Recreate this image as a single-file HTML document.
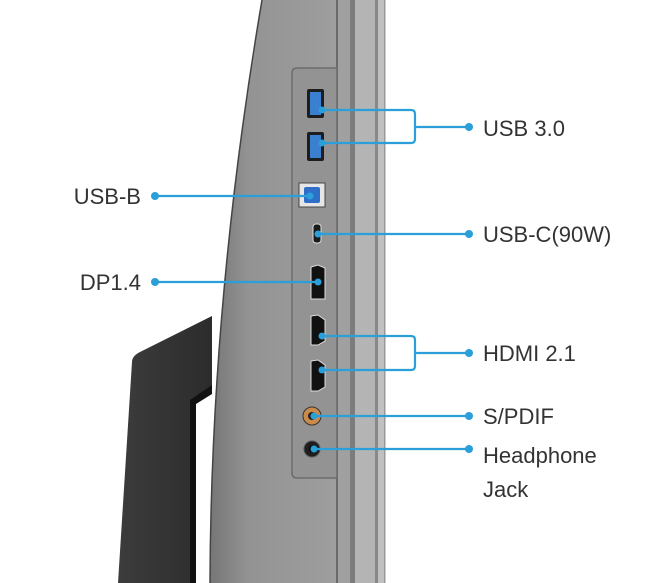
<!DOCTYPE html>
<html><head><style>
html,body{margin:0;padding:0;background:#fff;}
svg{display:block;}
text{font-family:"Liberation Sans",sans-serif;font-size:22px;fill:#333;}
</style></head><body>
<svg width="650" height="583" viewBox="0 0 650 583" xmlns="http://www.w3.org/2000/svg">
<defs>
<linearGradient id="body" x1="0" x2="1" y1="0" y2="0">
<stop offset="0" stop-color="#767676"/><stop offset="0.3" stop-color="#939393"/><stop offset="1" stop-color="#9e9e9e"/>
</linearGradient>
<linearGradient id="stand" x1="0" x2="1" y1="0" y2="0">
<stop offset="0" stop-color="#3c3c3c"/><stop offset="1" stop-color="#2c2c2c"/>
</linearGradient>
</defs>
<path d="M132,362 Q132,356 140,352 L212,316 L212,583 L118,583 Z" fill="url(#stand)"/>
<path d="M190,400 L212,385 L212,583 L190,583 Z" fill="#111"/>
<path d="M196,404 L212,394 L212,583 L196,583 Z" fill="#fff"/>
<path d="M262,0 L337,0 L337,583 L210,583 Q211,300 262,0 Z" fill="url(#body)"/>
<path d="M262,0 Q211,300 210,583" fill="none" stroke="#444" stroke-width="1.5"/>
<rect x="337" y="0" width="13" height="583" fill="#a0a0a0"/>
<rect x="336" y="0" width="2" height="583" fill="#6a6a6a"/>
<rect x="350" y="0" width="5" height="583" fill="#7c7c7c"/>
<rect x="355" y="0" width="20" height="583" fill="#b4b4b4"/>
<rect x="375" y="0" width="3" height="583" fill="#888"/>
<rect x="378" y="0" width="7" height="583" fill="#c0c0c0"/>
<rect x="384" y="0" width="1.5" height="583" fill="#999"/>
<path d="M292,73 Q292,68 297,68 L337,68 L337,478 L297,478 Q292,478 292,473 Z" fill="#939393" stroke="#6c6c6c" stroke-width="1.5"/>
<rect x="307" y="89" width="17" height="29" rx="2" fill="#1d1d1d"/><rect x="310" y="92" width="11" height="23" fill="#3a7fd0"/>
<rect x="307" y="132" width="17" height="29" rx="2" fill="#1d1d1d"/><rect x="310" y="135" width="11" height="23" fill="#3a7fd0"/>
<rect x="299" y="183" width="26" height="24" fill="#e6e6e6" stroke="#444"/><rect x="304" y="187" width="16" height="16" rx="2" fill="#2f6fc8"/>
<rect x="313" y="224" width="8" height="19" rx="3" fill="#1a1a1a" stroke="#ddd"/>
<path d="M311,267 L318,265 L325,268 L325,299 L311,299 Z" fill="#111" stroke="#ddd"/>
<path d="M311,316 L318,315 L325,320 L325,341 L318,345 L311,345 Z" fill="#111" stroke="#ddd"/>
<path d="M311,361 L318,360 L325,365 L325,387 L318,391 L311,391 Z" fill="#111" stroke="#ddd"/>
<circle cx="312" cy="416" r="9" fill="#c98a4a" stroke="#333"/><circle cx="312" cy="416" r="4" fill="#222"/>
<circle cx="312" cy="449" r="8" fill="#1e1e1e" stroke="#555"/><circle cx="312" cy="449" r="3" fill="#000"/>
<g stroke="#2a9fd8" stroke-width="2.2" fill="none">
<path d="M322,110 L411,110 Q415,110 415,114 L415,139 Q415,143 411,143 L322,143"/>
<path d="M415,127 L469,127"/>
<path d="M155,196 L310,196"/>
<path d="M318,234 L469,234"/>
<path d="M155,282 L318,282"/>
<path d="M322,336 L411,336 Q415,336 415,340 L415,366 Q415,370 411,370 L322,370"/>
<path d="M415,353 L469,353"/>
<path d="M314,416 L469,416"/>
<path d="M314,449 L469,449"/>
</g>
<g fill="#2a9fd8">
<circle cx="469" cy="127" r="4"/><circle cx="155" cy="196" r="4"/><circle cx="469" cy="234" r="4"/>
<circle cx="155" cy="282" r="4"/><circle cx="469" cy="353" r="4"/><circle cx="469" cy="416" r="4"/><circle cx="469" cy="449" r="4"/>
<circle cx="322" cy="110" r="3.5"/><circle cx="322" cy="143" r="3.5"/><circle cx="310" cy="196" r="3.5"/>
<circle cx="318" cy="234" r="3.5"/><circle cx="318" cy="282" r="3.5"/><circle cx="322" cy="336" r="3.5"/>
<circle cx="322" cy="370" r="3.5"/><circle cx="314" cy="416" r="3.5"/><circle cx="314" cy="449" r="3.5"/>
</g>
<text x="483" y="136">USB 3.0</text>
<text x="141" y="204" text-anchor="end">USB-B</text>
<text x="483" y="242">USB-C(90W)</text>
<text x="141" y="290" text-anchor="end">DP1.4</text>
<text x="483" y="361">HDMI 2.1</text>
<text x="483" y="424">S/PDIF</text>
<text x="483" y="463">Headphone</text>
<text x="483" y="497">Jack</text>
</svg>
</body></html>
